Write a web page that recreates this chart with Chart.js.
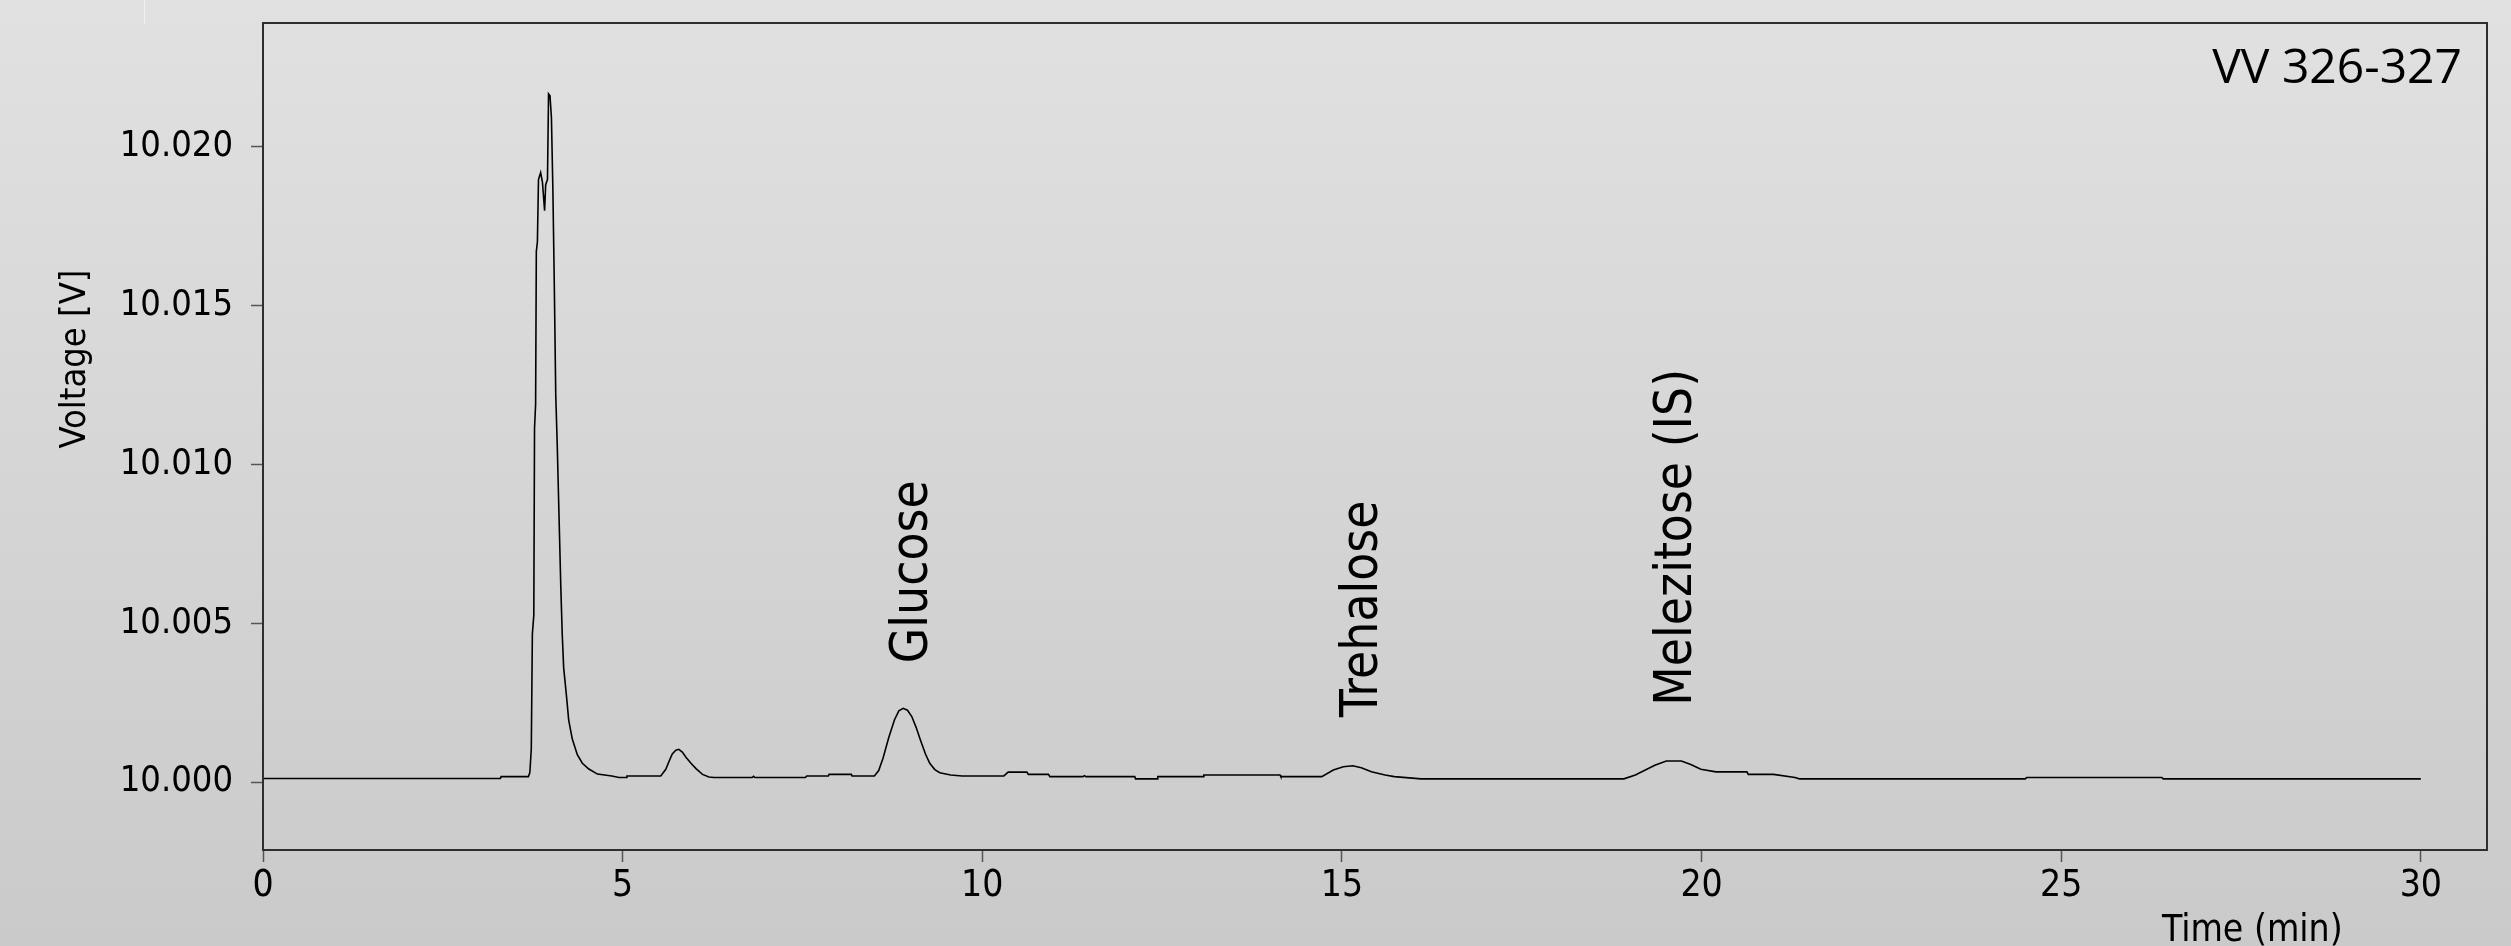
<!DOCTYPE html>
<html>
<head>
<meta charset="utf-8">
<title>VV 326-327</title>
<script src="https://cdn.jsdelivr.net/npm/chart.js@4.4.1/dist/chart.umd.min.js"></script>
<style>
  html, body { margin: 0; padding: 0; overflow: hidden; background: #d6d6d6; }
  canvas { display: block; }
</style>
</head>
<body>
<canvas id="chromatogram" width="2511" height="946"></canvas>
<script>
// Detector trace: retention time (min) and detector voltage (V)
const retentionTimes = [
  0.00, 3.30, 3.31, 3.69, 3.71, 3.73, 3.745, 3.765, 3.775, 3.79,
  3.80, 3.815, 3.83, 3.86, 3.885, 3.915, 3.93, 3.955, 3.97, 3.99,
  4.01, 4.03, 4.05, 4.07, 4.09, 4.115, 4.14, 4.16, 4.18, 4.22,
  4.25, 4.30, 4.37, 4.44, 4.53, 4.65, 4.85, 4.95, 5.05, 5.06,
  5.53, 5.60, 5.64, 5.69, 5.74, 5.78, 5.83, 5.88, 5.95, 6.02,
  6.11, 6.20, 6.27, 6.80, 6.82, 6.84, 7.54, 7.56, 7.86, 7.87,
  8.18, 8.19, 8.50, 8.56, 8.62, 8.70, 8.78, 8.84, 8.90, 8.96,
  9.02, 9.08, 9.14, 9.21, 9.27, 9.34, 9.41, 9.56, 9.72, 10.30,
  10.36, 10.62, 10.64, 10.92, 10.94, 11.40, 11.42, 11.44, 12.12, 12.13,
  12.43, 12.44, 13.07, 13.08, 14.14, 14.15, 14.72, 14.88, 15.02, 15.15,
  15.27, 15.41, 15.60, 15.73, 16.10, 18.92, 19.08, 19.35, 19.51, 19.72,
  19.85, 19.99, 20.20, 20.63, 20.65, 21.00, 21.30, 21.36, 24.50, 24.52,
  26.40, 26.42, 30.00
];
const detectorVolts = [
  10.00011, 10.00011, 10.00017, 10.00017, 10.00030, 10.00104, 10.00466, 10.00525, 10.01114, 10.01188,
  10.01670, 10.01700, 10.01896, 10.01918, 10.01888, 10.01798, 10.01880, 10.01896, 10.02166, 10.02160,
  10.02091, 10.01866, 10.01564, 10.01218, 10.01067, 10.00842, 10.00617, 10.00466, 10.00360, 10.00269,
  10.00195, 10.00135, 10.00086, 10.00059, 10.00041, 10.00025, 10.00019, 10.00014, 10.00014, 10.00019,
  10.00019, 10.00040, 10.00062, 10.00088, 10.00100, 10.00103, 10.00094, 10.00078, 10.00059, 10.00042,
  10.00024, 10.00016, 10.00014, 10.00014, 10.00018, 10.00014, 10.00014, 10.00019, 10.00019, 10.00024,
  10.00024, 10.00019, 10.00019, 10.00036, 10.00075, 10.00140, 10.00196, 10.00224, 10.00232, 10.00226,
  10.00206, 10.00172, 10.00132, 10.00088, 10.00059, 10.00039, 10.00029, 10.00022, 10.00019, 10.00019,
  10.00031, 10.00031, 10.00024, 10.00024, 10.00017, 10.00017, 10.00020, 10.00017, 10.00017, 10.00010,
  10.00010, 10.00017, 10.00017, 10.00022, 10.00022, 10.00017, 10.00017, 10.00038, 10.00048, 10.00051,
  10.00045, 10.00032, 10.00022, 10.00017, 10.00010, 10.00010, 10.00022, 10.00053, 10.00066, 10.00066,
  10.00055, 10.00040, 10.00032, 10.00032, 10.00024, 10.00024, 10.00014, 10.00010, 10.00010, 10.00014,
  10.00014, 10.00010, 10.00010
];

// Identified peaks and where their names sit (time, voltage at the start of the text)
const peakNames = ['Glucose', 'Trehalose', 'Melezitose (IS)'];
const peakLabelTimes = [9.23, 15.49, 19.85];
const peakLabelVolts = [10.00374, 10.00204, 10.00240];

// Axis ticks
const timeTicks = [0, 5, 10, 15, 20, 25, 30];
const voltTicks = [10.000, 10.005, 10.010, 10.015, 10.020];

const sampleName = 'VV 326-327';
const xTitle = 'Time (min)';
const yTitle = 'Voltage [V]';

const AXIS_FONT = '"DejaVu Sans Condensed", "DejaVu Sans", sans-serif';
const LABEL_FONT = '"DejaVu Sans Condensed", "DejaVu Sans", sans-serif';
const TITLE_FONT = '"Open Sans", "Noto Sans", sans-serif';

const tracePoints = retentionTimes.map((t, i) => ({ x: t, y: detectorVolts[i] }));

// Grey vertical wash behind everything
const backdrop = {
  id: 'backdrop',
  beforeDraw(chart) {
    const { ctx, width, height } = chart;
    const g = ctx.createLinearGradient(0, 0, 0, height);
    g.addColorStop(0, '#e1e1e1');
    g.addColorStop(1, '#cacaca');
    ctx.save();
    ctx.fillStyle = g;
    ctx.fillRect(0, 0, width, height);
    ctx.strokeStyle = 'rgba(255,255,255,0.55)';
    ctx.lineWidth = 1;
    ctx.beginPath();
    ctx.moveTo(144.5, 0);
    ctx.lineTo(144.5, 24);
    ctx.stroke();
    ctx.restore();
  }
};

// Plot frame, peak names, axis titles and sample name
const decorations = {
  id: 'decorations',
  afterDraw(chart) {
    const { ctx, chartArea: a, scales } = chart;
    ctx.save();

    ctx.strokeStyle = '#2e2e2e';
    ctx.lineWidth = 2;
    ctx.strokeRect(a.left, a.top, a.right - a.left, a.bottom - a.top);

    ctx.fillStyle = '#000';
    ctx.font = '51px ' + LABEL_FONT;
    ctx.textAlign = 'left';
    ctx.textBaseline = 'alphabetic';
    peakNames.forEach((name, i) => {
      const px = scales.x.getPixelForValue(peakLabelTimes[i]);
      const py = scales.y.getPixelForValue(peakLabelVolts[i]);
      ctx.save();
      ctx.translate(px, py);
      ctx.rotate(-Math.PI / 2);
      ctx.fillText(name, 0, 0);
      ctx.restore();
    });

    ctx.font = '36px ' + AXIS_FONT;
    ctx.save();
    ctx.translate(85, 359);
    ctx.rotate(-Math.PI / 2);
    ctx.textAlign = 'center';
    ctx.fillText(yTitle, 0, 0);
    ctx.restore();

    ctx.font = '37px ' + AXIS_FONT;
    ctx.textAlign = 'left';
    ctx.fillText(xTitle, a.right - 325, a.bottom + 91);

    ctx.font = '48px ' + TITLE_FONT;
    ctx.textAlign = 'right';
    ctx.fillText(sampleName, a.right - 25, a.top + 60);

    ctx.restore();
  }
};

new Chart(document.getElementById('chromatogram'), {
  type: 'scatter',
  data: {
    datasets: [{
      data: tracePoints,
      showLine: true,
      borderColor: '#000',
      borderWidth: 1.6,
      pointRadius: 0,
      tension: 0,
      fill: false
    }]
  },
  options: {
    responsive: false,
    animation: false,
    devicePixelRatio: 1,
    layout: { padding: { top: 23, right: 24, left: 0, bottom: 0 } },
    plugins: {
      legend: { display: false },
      tooltip: { enabled: false },
      title: { display: false }
    },
    scales: {
      x: {
        type: 'linear',
        min: 0,
        max: 30.92,
        afterBuildTicks(scale) { scale.ticks = timeTicks.map(v => ({ value: v })); },
        afterFit(scale) {
          scale.height = 96;
          scale.paddingLeft = 0; scale.paddingRight = 0;
        },
        ticks: {
          color: '#000',
          font: { family: AXIS_FONT, size: 37 },
          padding: 2,
          maxRotation: 0,
          autoSkip: false,
          callback: v => String(v)
        },
        grid: {
          display: true,
          drawOnChartArea: false,
          drawTicks: true,
          tickLength: 12,
          tickColor: '#555',
          tickWidth: 1.5
        },
        border: { display: false }
      },
      y: {
        type: 'linear',
        min: 9.99786,
        max: 10.02389,
        afterBuildTicks(scale) { scale.ticks = voltTicks.map(v => ({ value: v })); },
        afterFit(scale) {
          scale.width = 263;
          scale.paddingTop = 0; scale.paddingBottom = 0;
        },
        ticks: {
          color: '#000',
          font: { family: AXIS_FONT, size: 36 },
          padding: 18,
          autoSkip: false,
          callback: v => Number(v).toFixed(3)
        },
        grid: {
          display: true,
          drawOnChartArea: false,
          drawTicks: true,
          tickLength: 12,
          tickColor: '#555',
          tickWidth: 1.5
        },
        border: { display: false }
      }
    }
  },
  plugins: [backdrop, decorations]
});
</script>
</body>
</html>
